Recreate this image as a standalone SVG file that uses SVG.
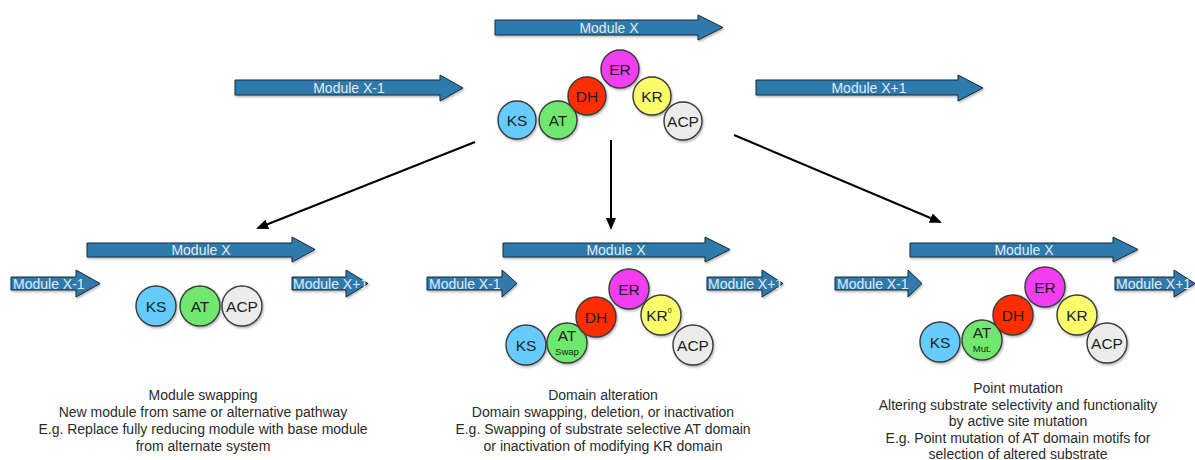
<svg xmlns="http://www.w3.org/2000/svg" width="1195" height="460" viewBox="0 0 1195 460">
<style>
.arr{fill:#2e7aad;stroke:#1a2a36;stroke-width:1;filter:url(#sh)}
.at{font-family:"Liberation Sans",Arial,sans-serif;font-size:14px;fill:#e2eaf1}
.c{stroke:#3a3a3a;stroke-width:1.4;filter:url(#sh)}
.ct{font-family:"Liberation Sans",Arial,sans-serif;font-size:15.5px;fill:#1e1e1e;text-anchor:middle}
.cs{font-family:"Liberation Sans",Arial,sans-serif;font-size:9.5px;fill:#1e1e1e;text-anchor:middle}
.cap{font-family:"Liberation Sans",Arial,sans-serif;font-size:14px;fill:#2a2a2a;text-anchor:middle}
.ks{fill:#66ccff}.atd{fill:#6fe86f}.dh{fill:#ff2d00}.er{fill:#f23cf2}.kr{fill:#fdfd6c}.acp{fill:#ececec}
.ln{stroke:#000;stroke-width:2;fill:none;marker-end:url(#ah)}
</style>
<defs>
<filter id="sh" x="-20%" y="-20%" width="150%" height="160%"><feDropShadow dx="1" dy="1.5" stdDeviation="1.2" flood-color="#000" flood-opacity="0.3"/></filter>
<marker id="ah" markerWidth="12" markerHeight="10" refX="10" refY="5" orient="auto" markerUnits="userSpaceOnUse"><path d="M0,0 L12,5 L0,10 Z" fill="#000"/></marker>
</defs>
<rect width="1195" height="460" fill="#fff"/>

<g id="connectors">
<line class="ln" x1="475" y1="142" x2="258" y2="228"/>
<line class="ln" x1="611" y1="140" x2="611" y2="228"/>
<line class="ln" x1="734" y1="135" x2="940" y2="222"/>
</g>

<!-- Top -->
<g id="top-moduleX"><path class="arr" d="M495,20 H698 V15 L723,27.5 L698,40 V35 H495 Z"/><text class="at" x="609" y="32.5" text-anchor="middle">Module X</text></g>
<g id="top-moduleXm1"><path class="arr" d="M235,80 H440 V75 L463,88 L440,101 V95 H235 Z"/><text class="at" x="349" y="92.5" text-anchor="middle">Module X-1</text></g>
<g id="top-moduleXp1"><path class="arr" d="M756,80 H958 V75 L983,88 L958,101 V95 H756 Z"/><text class="at" x="869" y="92.5" text-anchor="middle">Module X+1</text></g>
<g id="top-domains">
<circle class="c ks" cx="517" cy="120" r="19"/><text class="ct" x="517" y="125.5">KS</text>
<circle class="c atd" cx="558" cy="120" r="19"/><text class="ct" x="558" y="125.5">AT</text>
<circle class="c dh" cx="587" cy="96" r="19"/><text class="ct" x="587" y="101.5">DH</text>
<circle class="c er" cx="620" cy="69" r="19"/><text class="ct" x="620" y="74.5">ER</text>
<circle class="c kr" cx="652" cy="96" r="19"/><text class="ct" x="652" y="101.5">KR</text>
<circle class="c acp" cx="683" cy="121" r="19"/><text class="ct" x="683" y="126.5">ACP</text>
</g>

<!-- Left panel -->
<g id="left-moduleX"><path class="arr" d="M87,243 H292 V237 L315,249.5 L292,262 V257 H87 Z"/><text class="at" x="201" y="254.5" text-anchor="middle">Module X</text></g>
<g id="left-moduleXm1"><path class="arr" d="M11,277 H76 V270 L100,283.5 L76,297 V290 H11 Z"/><text class="at" x="13" y="288.5">Module X-1</text></g>
<g id="left-moduleXp1"><path class="arr" d="M292,277 H346 V270 L368,283.5 L346,297 V290 H292 Z"/><text class="at" x="293" y="288.5">Module X+1</text></g>
<g id="left-domains">
<circle class="c ks" cx="156" cy="306" r="20"/><text class="ct" x="156" y="311.5">KS</text>
<circle class="c atd" cx="200" cy="306" r="20"/><text class="ct" x="200" y="311.5">AT</text>
<circle class="c acp" cx="242" cy="306" r="20"/><text class="ct" x="242" y="311.5">ACP</text>
</g>
<g id="left-caption">
<text class="cap" x="203" y="400">Module swapping</text>
<text class="cap" x="203" y="417">New module from same or alternative pathway</text>
<text class="cap" x="203" y="434">E.g. Replace fully reducing module with base module</text>
<text class="cap" x="203" y="451">from alternate system</text>
</g>

<!-- Middle panel -->
<g id="mid-moduleX"><path class="arr" d="M503,243 H705 V237 L730,249.5 L705,262 V257 H503 Z"/><text class="at" x="616" y="254.5" text-anchor="middle">Module X</text></g>
<g id="mid-moduleXm1"><path class="arr" d="M427,277 H502 V270 L517,283.5 L502,297 V290 H427 Z"/><text class="at" x="429" y="288.5">Module X-1</text></g>
<g id="mid-moduleXp1"><path class="arr" d="M707,277 H762 V270 L783,283.5 L762,297 V290 H707 Z"/><text class="at" x="708" y="288.5">Module X+1</text></g>
<g id="mid-domains">
<circle class="c ks" cx="526" cy="345" r="20"/><text class="ct" x="526" y="350.5">KS</text>
<circle class="c atd" cx="567" cy="343" r="20"/><text class="ct" x="567" y="341">AT</text><text class="cs" x="567" y="355">Swap</text>
<circle class="c dh" cx="596" cy="317" r="20"/><text class="ct" x="596" y="322.5">DH</text>
<circle class="c er" cx="629" cy="289" r="20"/><text class="ct" x="629" y="294.5">ER</text>
<circle class="c kr" cx="661" cy="315" r="20"/><text class="ct" x="659" y="320.5">KR<tspan font-size="7" dy="-8">0</tspan></text>
<circle class="c acp" cx="693" cy="345" r="20"/><text class="ct" x="693" y="350.5">ACP</text>
</g>
<g id="mid-caption">
<text class="cap" x="603" y="400">Domain alteration</text>
<text class="cap" x="603" y="417">Domain swapping, deletion, or inactivation</text>
<text class="cap" x="603" y="434">E.g. Swapping of substrate selective AT domain</text>
<text class="cap" x="603" y="451">or inactivation of modifying KR domain</text>
</g>

<!-- Right panel -->
<g id="right-moduleX"><path class="arr" d="M910,243 H1113 V237 L1138,249.5 L1113,262 V257 H910 Z"/><text class="at" x="1024" y="254.5" text-anchor="middle">Module X</text></g>
<g id="right-moduleXm1"><path class="arr" d="M835,277 H908 V270 L922,283.5 L908,297 V290 H835 Z"/><text class="at" x="837" y="288.5">Module X-1</text></g>
<g id="right-moduleXp1"><path class="arr" d="M1115,277 H1174 V270 L1195,283.5 L1174,297 V290 H1115 Z"/><text class="at" x="1116" y="288.5">Module X+1</text></g>
<g id="right-domains">
<circle class="c ks" cx="940" cy="342" r="20"/><text class="ct" x="940" y="347.5">KS</text>
<circle class="c atd" cx="982" cy="340" r="20"/><text class="ct" x="982" y="338">AT</text><text class="cs" x="982" y="352">Mut.</text>
<circle class="c dh" cx="1013" cy="315" r="20"/><text class="ct" x="1013" y="320.5">DH</text>
<circle class="c er" cx="1045" cy="287" r="20"/><text class="ct" x="1045" y="292.5">ER</text>
<circle class="c kr" cx="1077" cy="315" r="20"/><text class="ct" x="1077" y="320.5">KR</text>
<circle class="c acp" cx="1107" cy="343" r="20"/><text class="ct" x="1107" y="348.5">ACP</text>
</g>
<g id="right-caption">
<text class="cap" x="1018" y="393">Point mutation</text>
<text class="cap" x="1018" y="409.5">Altering substrate selectivity and functionality</text>
<text class="cap" x="1018" y="426">by active site mutation</text>
<text class="cap" x="1018" y="442.5">E.g. Point mutation of AT domain motifs for</text>
<text class="cap" x="1018" y="459">selection of altered substrate</text>
</g>
</svg>
